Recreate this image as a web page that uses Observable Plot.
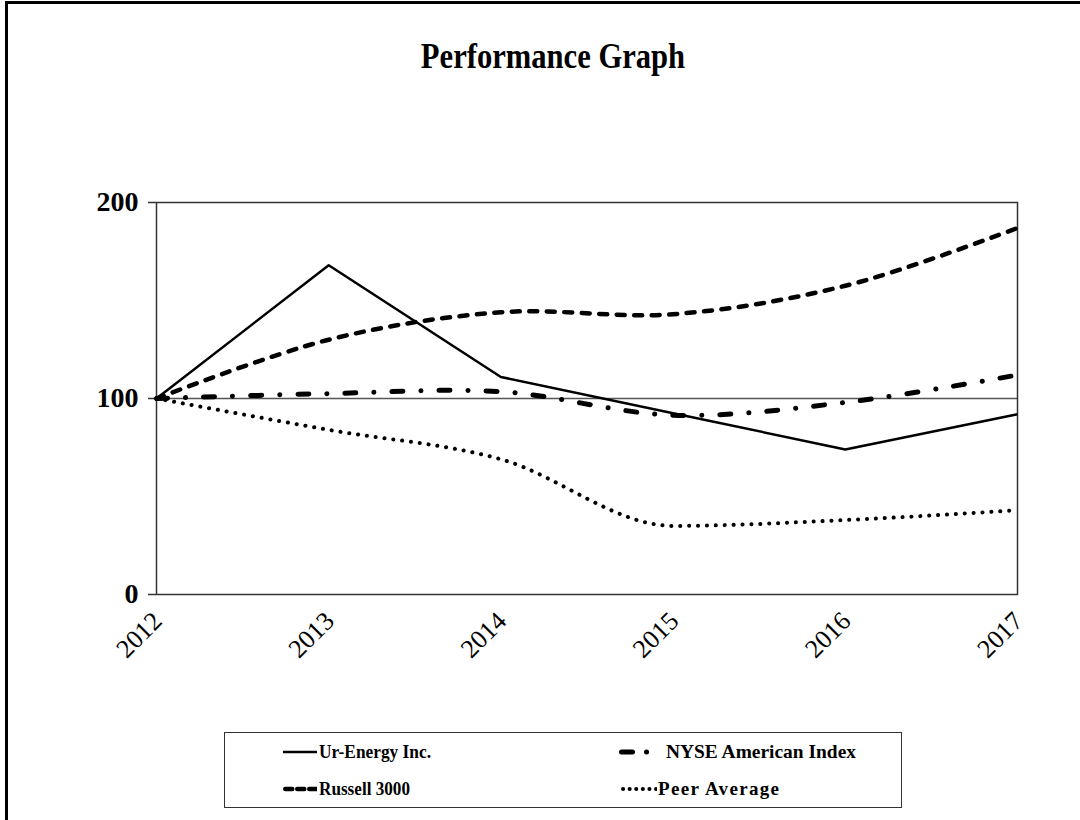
<!DOCTYPE html>
<html>
<head>
<meta charset="utf-8">
<script src="https://cdn.jsdelivr.net/npm/d3@7"></script>
<script src="https://cdn.jsdelivr.net/npm/@observablehq/plot@0.6"></script>
<style>
  html, body { margin: 0; padding: 0; background: #fff; }
  #page { position: relative; width: 1080px; height: 820px; overflow: hidden; font-family: "Liberation Serif", "Times New Roman", serif; }
  #frame { position: absolute; left: 5px; top: 1px; width: 1090px; height: 830px; border-left: 3px solid #000; border-top: 3px solid #000; box-sizing: border-box; }
  #title { position: absolute; top: 34px; left: 553px; transform: translateX(-50%) scaleX(0.85); font-weight: bold; font-size: 36px; white-space: nowrap; color: #000; line-height: 44px; }
  #chart { position: absolute; top: 150px; left: 0; }
  #legend { position: absolute; left: 224px; top: 732px; width: 678px; height: 76px; border: 1.5px solid #333; box-sizing: border-box; }
  .item { position: absolute; display: flex; align-items: center; font-weight: bold; font-size: 19px; white-space: nowrap; color: #000; }
  .item span { display: inline-block; transform-origin: left center; }
</style>
</head>
<body>
<div id="page">
  <div id="frame"></div>
  <div id="title">Performance Graph</div>
  <div id="chart"></div>
  <div id="legend"></div>
</div>
<script>
// ---- data ----
const years = [2012, 2013, 2014, 2015, 2016, 2017];
const urEnergy = [100, 168, 111, 92.5, 74, 92];
const russell3000 = [100, 130, 144, 143, 157.5, 187];
const nyseAmerican = [100, 102.5, 103.5, 91.5, 98, 112];
const peerAverage = [100, 84, 69, 35, 38, 43];
const seriesNames = ["Ur-Energy Inc.", "Russell 3000", "NYSE American Index", "Peer Average"];
const yTicks = [0, 100, 200];

const styles = {
  "Ur-Energy Inc.": {strokeWidth: 2.5, strokeDasharray: null, strokeLinecap: "butt", curve: "linear", legendDash: null},
  "Russell 3000": {strokeWidth: 4.5, strokeDasharray: "8,9.5", strokeLinecap: "round", curve: "catmull-rom", legendDash: "7,5"},
  "NYSE American Index": {strokeWidth: 5, strokeDasharray: "11,18,0.1,18", strokeLinecap: "round", curve: "catmull-rom", legendDash: "11,14,0.1,30"},
  "Peer Average": {strokeWidth: 4, strokeDasharray: "0.1,8.8", strokeLinecap: "round", curve: "monotone-x", legendDash: "0.1,6.5"}
};
const seriesValues = [urEnergy, russell3000, nyseAmerican, peerAverage];
const table = seriesNames.map((name, i) => years.map((year, j) => ({series: name, year, value: seriesValues[i][j]})));

const lineMarks = table.map((rows, i) => {
  const s = styles[seriesNames[i]];
  return Plot.line(rows, {
    x: "year", y: "value",
    stroke: "#000",
    strokeWidth: s.strokeWidth,
    strokeDasharray: s.strokeDasharray,
    strokeLinecap: s.strokeLinecap,
    strokeLinejoin: "round",
    curve: s.curve
  });
});

const chart = Plot.plot({
  width: 1080,
  height: 560,
  marginTop: 52,
  marginBottom: 116,
  marginLeft: 156,
  marginRight: 63,
  style: {fontFamily: '"Liberation Serif", "Times New Roman", serif', background: "transparent", overflow: "visible"},
  x: {domain: [years[0], years[years.length - 1]], axis: null},
  y: {domain: [0, 200], axis: null},
  marks: [
    Plot.ruleY([100], {stroke: "#555", strokeWidth: 1.5}),
    Plot.frame({stroke: "#333", strokeWidth: 1.5}),
    Plot.axisY(yTicks, {label: null, tickSize: 8, tickPadding: 10, fontSize: 28, fontWeight: "bold", stroke: "#333", strokeWidth: 1.5, tickFormat: d => String(d), fill: "#000"}),
    ...lineMarks.reverse(),
    Plot.text(years, {x: d => d, frameAnchor: "bottom", text: d => String(d), rotate: -45, textAnchor: "end", dx: 7, dy: 28, fontSize: 26, fill: "#000"})
  ]
});
document.getElementById("chart").appendChild(chart);

// ---- legend ----
const legendPos = {
  "Ur-Energy Inc.": {left: 58, top: 19, sw: 34, gap: 2, textWidth: 112},
  "Russell 3000": {left: 58, top: 56, sw: 34, gap: 2, textWidth: 91},
  "NYSE American Index": {left: 394, top: 19, sw: 40, gap: 7, textWidth: 190},
  "Peer Average": {left: 396, top: 56, sw: 36, gap: 1, textWidth: 121}
};
const legend = d3.select("#legend");
seriesNames.forEach(name => {
  const p = legendPos[name];
  const s = styles[name];
  const item = legend.append("div").attr("class", "item")
    .style("left", p.left + "px").style("top", (p.top - 13) + "px").style("height", "26px");
  const svg = item.append("svg").attr("width", p.sw).attr("height", 26).style("margin-right", p.gap + "px");
  const ln = svg.append("line")
    .attr("x1", s.strokeLinecap === "round" ? s.strokeWidth / 2 : 0)
    .attr("x2", p.sw).attr("y1", 13).attr("y2", 13)
    .attr("stroke", "#000")
    .attr("stroke-width", s.strokeWidth)
    .attr("stroke-linecap", s.strokeLinecap);
  if (s.legendDash) ln.attr("stroke-dasharray", s.legendDash);
  const span = item.append("span").text(name);
  const w = span.node().getBoundingClientRect().width;
  if (name === "Peer Average") {
    span.style("letter-spacing", ((p.textWidth - w) / (name.length - 1)) + "px");
  } else {
    span.style("transform", `scaleX(${p.textWidth / w})`);
  }
});
</script>
</body>
</html>
